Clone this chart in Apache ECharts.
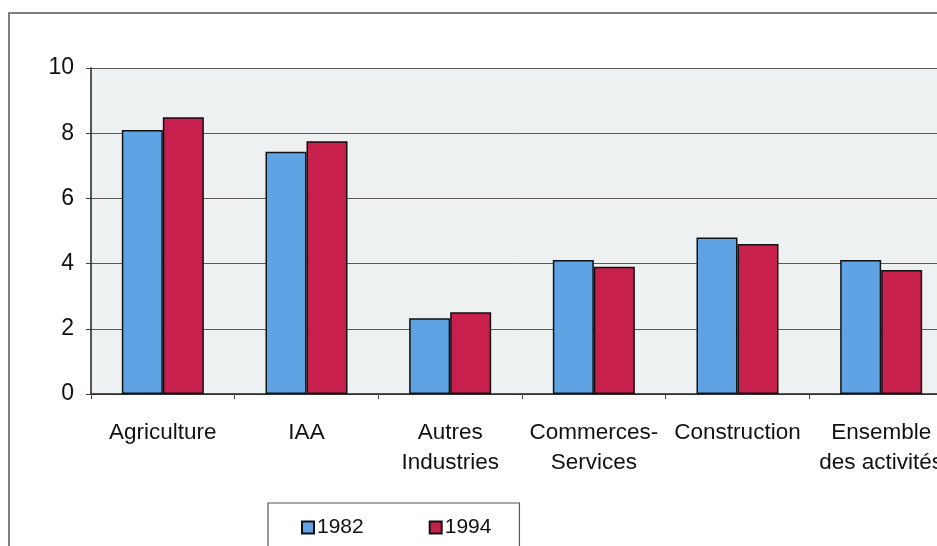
<!DOCTYPE html>
<html>
<head>
<meta charset="utf-8">
<script src="https://cdn.jsdelivr.net/npm/echarts@6/dist/echarts.min.js"></script>
<style>
  html, body { margin: 0; padding: 0; background: #fff; }
  #mychart { width: 937px; height: 546px; }
</style>
</head>
<body>
<div id="mychart"></div>
<script>
// values
var categories = ['Agriculture', 'IAA', 'Autres\nIndustries', 'Commerces-\nServices', 'Construction', 'Ensemble\ndes activités'];
var years = ['1982', '1994'];
var values1982 = [8.1, 7.43, 2.32, 4.11, 4.8, 4.11];
var values1994 = [8.49, 7.75, 2.51, 3.9, 4.6, 3.8];
var yTicks = { min: 0, max: 10, interval: 2 };

var font = 'Arial, "Liberation Sans", sans-serif';

var myChart = echarts.init(document.getElementById('mychart'));
var option = {
    backgroundColor: '#fff',
    animation: false,
    textStyle: { fontFamily: font, color: '#111' },
    grid: {
        left: 91,
        top: 68,
        width: 862,
        height: 326,
        outerBoundsMode: 'none',
        show: true,
        backgroundColor: '#eef1f2',
        borderWidth: 0
    },
    legend: {
        data: years,
        left: 268,
        top: 503,
        icon: 'rect',
        itemWidth: 12,
        itemHeight: 12,
        itemGap: 65,
        padding: [14, 28, 30, 33],
        borderColor: '#555',
        borderWidth: 1.2,
        textStyle: { fontSize: 21, color: '#111', fontFamily: font, padding: [4, 0, 0, -2] }
    },
    xAxis: {
        type: 'category',
        data: categories,
        axisLine: { lineStyle: { color: '#222', width: 1.5 } },
        axisTick: { show: true, length: 5, lineStyle: { color: '#444' } },
        axisLabel: {
            interval: 0,
            margin: 24,
            fontSize: 22.5,
            lineHeight: 30,
            color: '#111',
            fontFamily: font
        }
    },
    yAxis: {
        type: 'value',
        min: yTicks.min,
        max: yTicks.max,
        interval: yTicks.interval,
        axisLine: { show: true, lineStyle: { color: '#222', width: 1.5 } },
        axisTick: { show: true, length: 5, lineStyle: { color: '#444' } },
        axisLabel: { fontSize: 23, margin: 17, color: '#111', fontFamily: font },
        splitLine: { lineStyle: { color: '#5a5a5a', width: 1 } }
    },
    series: [
        {
            name: years[0],
            type: 'bar',
            data: values1982,
            barWidth: 41,
            barGap: '0%',
            itemStyle: { color: '#5ea4e4', borderColor: '#111', borderWidth: 1.5 }
        },
        {
            name: years[1],
            type: 'bar',
            data: values1994,
            barWidth: 41,
            barGap: '0%',
            itemStyle: { color: '#c8204c', borderColor: '#111', borderWidth: 1.5 }
        }
    ],
    graphic: [
        {
            type: 'rect',
            silent: true,
            shape: { x: 9, y: 13, width: 1000, height: 600 },
            style: { fill: 'none', stroke: '#555', lineWidth: 1.5 }
        }
    ]
};
myChart.setOption(option);
</script>
</body>
</html>
